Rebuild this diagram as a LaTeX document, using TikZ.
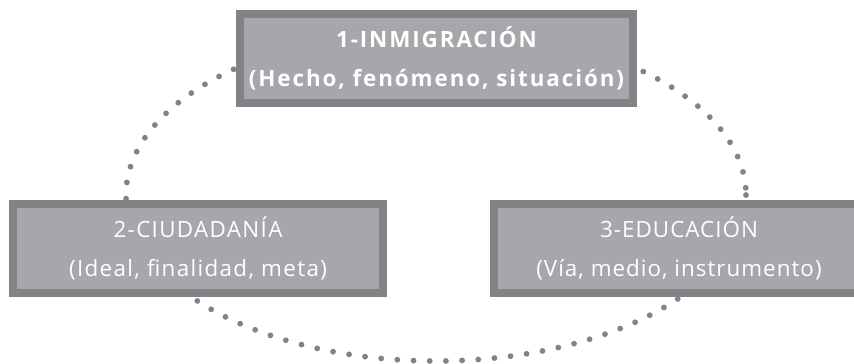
\documentclass[tikz,border=0pt]{standalone}
\usepackage{fontspec}
\setmainfont[LetterSpace=6]{Open Sans}
\definecolor{cframe}{RGB}{130,131,134}
\definecolor{cfill}{RGB}{166,167,170}

\begin{document}
\begin{tikzpicture}[x=1pt,y=-1pt,
  box/.style={draw=cframe,line width=8pt,fill=cfill,text=white,align=center,
    inner sep=0pt,minimum height=89pt,font=\fontsize{22.4}{39}\selectfont},
  dotring/.style={draw=cframe,line width=5.8pt,line cap=round,dash pattern=on 0pt off 16.2pt}]

\useasboundingbox (0,0) rectangle (854,364);

% dotted ring
\coordinate (ring) at (436,195);
\draw[dotring] (ring) ellipse [x radius=310, y radius=166];

% boxes
\node[box,minimum width=393pt,font=\fontsize{22.4}{39}\selectfont\bfseries\addfontfeatures{LetterSpace=8.5}] (inmig) at (436.5,58.5) {1-INMIGRACIÓN\\(Hecho, fenómeno, situación)};
\node[box,minimum width=370pt] (ciuda) at (198,248) {2-CIUDADANÍA\\(Ideal, finalidad, meta)};
\node[box,minimum width=370pt,font=\fontsize{22.4}{39}\selectfont\addfontfeatures{LetterSpace=4.5}] (educa) at (679,248) {3-EDUCACIÓN\\(Vía, medio, instrumento)};

\end{tikzpicture}
\end{document}
